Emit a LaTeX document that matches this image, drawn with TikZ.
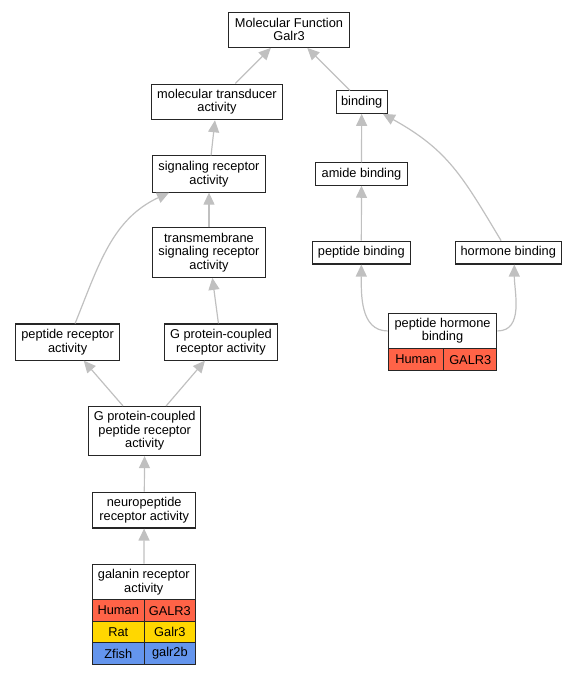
\documentclass[tikz,border=0pt]{standalone}
\usepackage{fontspec}
\setmainfont{Liberation Sans}
\usetikzlibrary{arrows.meta}
\definecolor{edgegray}{RGB}{192,192,192}
\definecolor{humanred}{RGB}{255,99,71}
\definecolor{ratgold}{RGB}{255,215,0}
\definecolor{fishblue}{RGB}{100,149,237}

\begin{document}
\begin{tikzpicture}[x=1pt, y=1pt,
        term/.style={rectangle, draw=black!85, line width=1.1pt, fill=white, align=center, inner sep=0pt, font=\fontsize{12.8}{13.4}\selectfont},
        cell/.style={rectangle, draw=black!85, line width=1.1pt, inner sep=0pt, minimum height=21.5pt, font=\fontsize{12.8}{13.4}\selectfont},
        isa/.style={draw=edgegray, line width=1.2pt, -{Triangle[length=12pt, width=11pt]}}
    ]
        \useasboundingbox (0,0) rectangle (573,-675);

        \node[term, minimum width=121pt, minimum height=35.3pt] (mf) at (289,-29.7) {Molecular Function\\Galr3};
        \node[term, minimum width=131.5pt, minimum height=35.7pt] (mta) at (217,-101.9) {molecular transducer\\activity};
        \node[term, minimum width=50.7pt, minimum height=22.4pt] (bind) at (361.7,-102.1) {binding};
        \node[term, minimum width=112.4pt, minimum height=36.2pt] (sra) at (209,-174) {signaling receptor\\activity};
        \node[term, minimum width=91.5pt, minimum height=22.4pt] (amide) at (361.5,-174) {amide binding};
        \node[term, minimum width=112.4pt, minimum height=49.5pt] (tsra) at (209,-252.6) {transmembrane\\signaling receptor\\activity};
        \node[term, minimum width=97.6pt, minimum height=22.8pt] (pb) at (361.3,-252.6) {peptide binding};
        \node[term, minimum width=105.8pt, minimum height=22.8pt] (hb) at (508.3,-252.6) {hormone binding};
        \node[term, minimum width=103.6pt, minimum height=36.1pt] (pra) at (67.6,-342) {peptide receptor\\activity};
        \node[term, minimum width=112.8pt, minimum height=36.1pt] (gpcr) at (220.9,-342) {G protein-coupled\\receptor activity};
        \node[term, minimum width=108.7pt, minimum height=35.7pt] (phb) at (442.55,-330.95) {peptide hormone\\binding};
        \node[cell, fill=humanred, minimum width=55.4pt] (phb-sp) at (415.9,-359.6) {Human};
        \node[cell, fill=humanred, minimum width=53.3pt] (phb-gene) at (470.25,-359.6) {GALR3};
        \node[term, minimum width=112.4pt, minimum height=49.1pt] (gpcpr) at (144.7,-431) {G protein-coupled\\peptide receptor\\activity};
        \node[term, minimum width=103.2pt, minimum height=35.8pt] (neuro) at (144.2,-510.1) {neuropeptide\\receptor activity};
        \node[term, minimum width=103.2pt, minimum height=35.7pt] (gra) at (143.8,-582.05) {galanin receptor\\activity};
        \node[cell, fill=humanred, minimum width=52.1pt] (gra-h) at (118.25,-610.65) {Human};
        \node[cell, fill=humanred, minimum width=51.1pt] (gra-hg) at (169.85,-610.65) {GALR3};
        \node[cell, fill=ratgold, minimum width=52.1pt] (gra-r) at (118.25,-632.2) {Rat};
        \node[cell, fill=ratgold, minimum width=51.1pt] (gra-rg) at (169.85,-632.2) {Galr3};
        \node[cell, fill=fishblue, minimum width=52.1pt] (gra-z) at (118.25,-653.6) {Zfish};
        \node[cell, fill=fishblue, minimum width=51.1pt] (gra-zg) at (169.85,-653.6) {galr2b};

        \draw[isa] (mta) -- (mf);
        \draw[isa] (bind) -- (mf);
        \draw[isa] (sra) -- (mta);
        \draw[isa] (amide) -- (bind);
        \draw[isa] (hb) to[out=121, in=331, looseness=1.1] (bind);
        \draw[isa] (tsra) -- (sra);
        \draw[isa] (pb) -- (amide);
        \draw[isa] (pra) to[out=68, in=205] (sra);
        \draw[isa] (gpcr) -- (tsra);
        \draw[isa] (gpcpr) -- (pra);
        \draw[isa] (gpcpr) -- (gpcr);
        \draw[isa] (neuro) -- (gpcpr);
        \draw[isa] (gra) -- (neuro);
        \draw[isa] (phb.west) to[out=180, in=270] (pb);
        \draw[isa] (phb.east) to[out=0, in=270] ([xshift=6pt]hb.south);
    \end{tikzpicture}
\end{document}
